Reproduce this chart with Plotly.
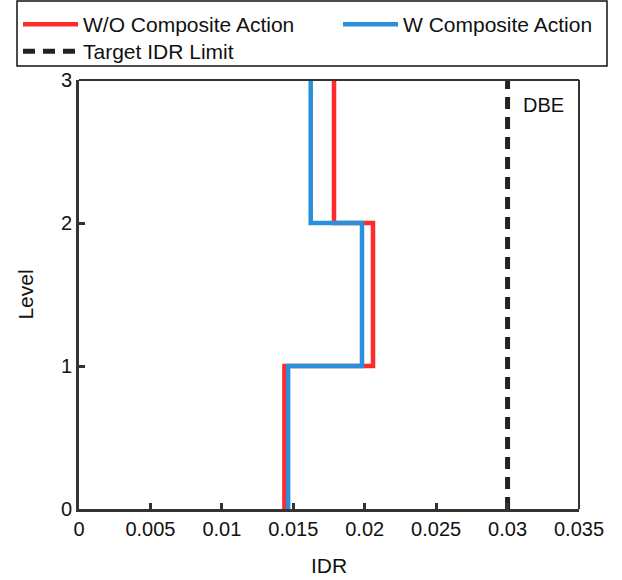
import plotly.graph_objects as go

levels = [0, 1, 2, 3]
idr_without = [0.01438, 0.02058, 0.01785]   # storeys 1..3, W/O composite action
idr_with = [0.01464, 0.01981, 0.01622]      # storeys 1..3, W composite action
target_idr = 0.03
target_label = "DBE"
x_ticks = [0, 0.005, 0.01, 0.015, 0.02, 0.025, 0.03, 0.035]
x_tick_text = ["0", "0.005", "0.01", "0.015", "0.02", "0.025", "0.03", "0.035"]
y_ticks = [0, 1, 2, 3]

FONT = "Liberation Sans, Arial, sans-serif"
TXT = "#111111"

fig = go.Figure()

fig.add_trace(go.Scatter(
    x=idr_without + [idr_without[-1]], y=levels, mode="lines", line_shape="vh",
    name="W/O Composite Action", line=dict(color="#ff2a2a", width=4.5),
    legend="legend",
))
fig.add_trace(go.Scatter(
    x=idr_with + [idr_with[-1]], y=levels, mode="lines", line_shape="vh",
    name="W Composite Action", line=dict(color="#2b90dc", width=4.5),
    legend="legend2",
))
fig.add_trace(go.Scatter(
    x=[target_idr, target_idr], y=[levels[0], levels[-1]], mode="lines",
    name="Target IDR Limit", line=dict(color="#222222", width=5, dash="12px,8px"),
    legend="legend3",
))

fig.add_annotation(x=0.03096, y=2.825, xref="x", yref="y", text=target_label,
                   showarrow=False, xanchor="left", yanchor="middle",
                   font=dict(family=FONT, size=20, color=TXT))

# thinner top/right frame lines
fig.add_shape(type="line", xref="paper", yref="paper", x0=0, x1=1, y0=1, y1=1,
              line=dict(color="#333333", width=2))
fig.add_shape(type="line", xref="paper", yref="paper", x0=1, x1=1, y0=0, y1=1,
              line=dict(color="#333333", width=2))
# legend frame (paper coords: plot area is 500 x 429 px, origin at px (79, 509))
fig.add_shape(type="rect", xref="paper", yref="paper",
              x0=(17 - 79) / 500, x1=(607 - 79) / 500,
              y0=(509 - 66) / 429, y1=(509 - 1) / 429,
              line=dict(color="#111111", width=1.5), fillcolor="rgba(0,0,0,0)")

leg_common = dict(
    orientation="h", xanchor="left", yanchor="top",
    borderwidth=0, bgcolor="rgba(0,0,0,0)",
    font=dict(family=FONT, size=21, color=TXT),
    itemwidth=55,
)

fig.update_layout(
    width=622, height=580,
    margin=dict(l=79, r=43, t=80, b=71, autoexpand=False),
    plot_bgcolor="white", paper_bgcolor="white",
    font=dict(family=FONT, size=20, color=TXT),
    showlegend=True,
    legend=dict(x=(18 - 79) / 500, y=(509 - 4) / 429, **leg_common),
    legend2=dict(x=(338 - 79) / 500, y=(509 - 4) / 429, **leg_common),
    legend3=dict(x=(18 - 79) / 500, y=(509 - 31) / 429, **leg_common),
    xaxis=dict(
        range=[0, 0.035], tickvals=x_ticks, ticktext=x_tick_text,
        showline=True, linecolor="#333333", linewidth=3,
        ticks="inside", ticklen=6, tickwidth=2.5, tickcolor="#333333",
        showgrid=False, zeroline=False,
        title=dict(text="IDR", font=dict(family=FONT, size=21, color=TXT), standoff=20),
        tickfont=dict(family=FONT, size=20, color=TXT),
    ),
    yaxis=dict(
        range=[0, 3], tickvals=y_ticks,
        showline=True, linecolor="#333333", linewidth=3,
        ticks="inside", ticklen=6, tickwidth=2.5, tickcolor="#333333",
        showgrid=False, zeroline=False,
        title=dict(text="Level", font=dict(family=FONT, size=21, color=TXT), standoff=22),
        tickfont=dict(family=FONT, size=20, color=TXT),
    ),
)

fig.write_html("out.html")
